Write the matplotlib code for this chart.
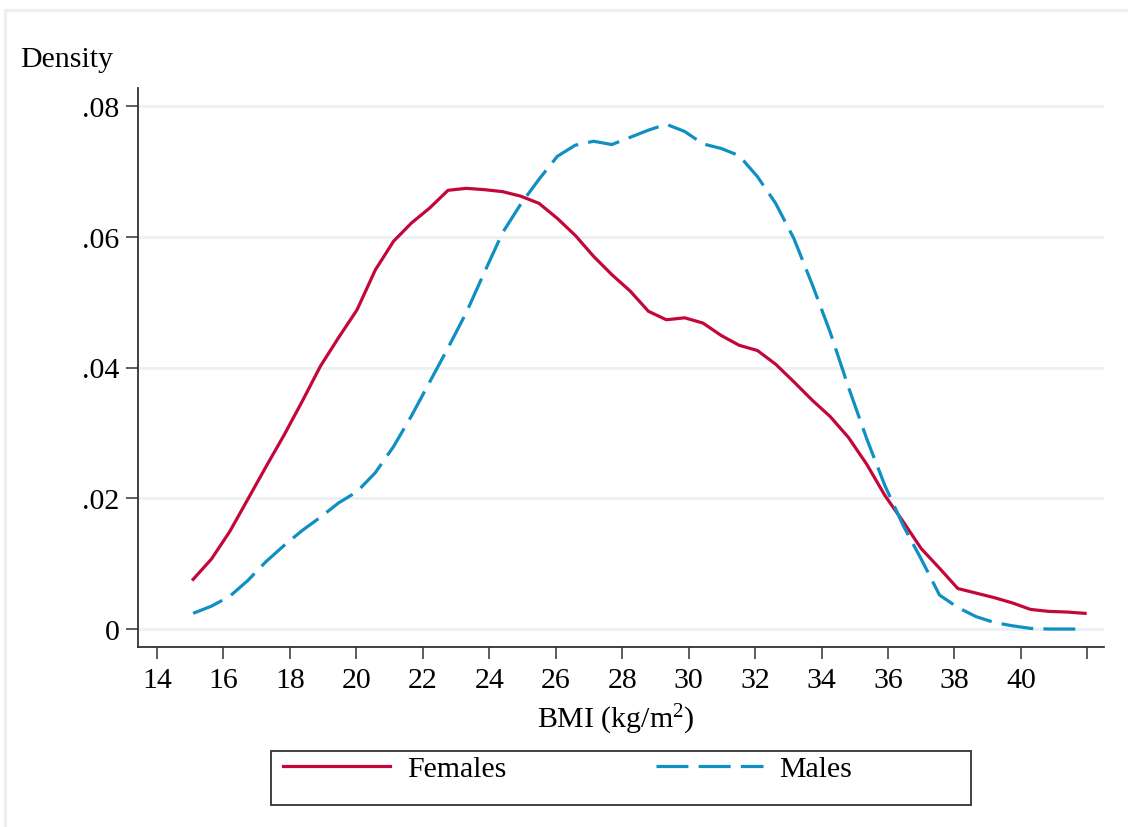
"""
Kernel density of BMI by sex, Stata-like styling.
"""

import matplotlib

matplotlib.use("Agg")
import matplotlib.pyplot as plt
from matplotlib.patches import Rectangle

# BMI grid the densities were evaluated on (kg/m^2)
bmi = [
    15.09, 15.64, 16.19, 16.73, 17.28, 17.83, 18.38, 18.92, 19.47, 20.02,
    20.57, 21.12, 21.66, 22.21, 22.76, 23.31, 23.85, 24.40, 24.95, 25.50,
    26.05, 26.59, 27.14, 27.69, 28.24, 28.79, 29.33, 29.88, 30.43, 30.98,
    31.52, 32.07, 32.62, 33.17, 33.72, 34.26, 34.81, 35.36, 35.91, 36.46,
    37.00, 37.55, 38.10, 38.65, 39.20, 39.74, 40.29, 40.84, 41.39, 41.93,
]
females = [
    0.0076, 0.0107, 0.0149, 0.0198, 0.0248, 0.0297, 0.0349, 0.0402, 0.0446, 0.0488,
    0.0549, 0.0593, 0.0621, 0.0644, 0.0671, 0.0674, 0.0672, 0.0669, 0.0662, 0.0651,
    0.0628, 0.0602, 0.0570, 0.0542, 0.0517, 0.0486, 0.0473, 0.0476, 0.0468, 0.0449,
    0.0434, 0.0426, 0.0405, 0.0378, 0.0350, 0.0325, 0.0293, 0.0252, 0.0204, 0.0164,
    0.0123, 0.0093, 0.0062, 0.0055, 0.0048, 0.0040, 0.0030, 0.0027, 0.0026, 0.0024,
]
males = [
    0.0024, 0.0035, 0.0050, 0.0074, 0.0103, 0.0128, 0.0151, 0.0171, 0.0193, 0.0210,
    0.0239, 0.0279, 0.0326, 0.0378, 0.0430, 0.0484, 0.0545, 0.0606, 0.0650, 0.0688,
    0.0723, 0.0740, 0.0746, 0.0741, 0.0752, 0.0763, 0.0772, 0.0761, 0.0742, 0.0735,
    0.0724, 0.0692, 0.0651, 0.0597, 0.0527, 0.0454, 0.0370, 0.0291, 0.0219, 0.0158,
    0.0107, 0.0052, 0.0033, 0.0019, 0.0010, 0.0005, 0.0001, 0.0000, 0.0000, 0.0000,
]

x_ticks = list(range(14, 43, 2))
x_tick_labels = [str(t) if t <= 40 else "" for t in x_ticks]
y_ticks = [0, 0.02, 0.04, 0.06, 0.08]
y_tick_labels = ["0", ".02", ".04", ".06", ".08"]

RED = "#c4073a"
BLUE = "#0f8fc2"
GRID = "#eaf1f3"
INK = "#333333"
FS = 21.5

plt.rcParams["font.family"] = ["Liberation Serif", "DejaVu Serif"]
plt.rcParams["mathtext.fontset"] = "custom"
plt.rcParams["mathtext.rm"] = "Liberation Serif"
plt.rcParams["mathtext.it"] = "Liberation Serif:italic"

W, H = 1128, 828
fig = plt.figure(figsize=(W / 100, H / 100), dpi=100)
ax = fig.add_axes([138.3 / W, 1 - 647.7 / H, (1104 - 138.3) / W, (647.7 - 89.3) / H])

# light outer frame of the graph region (only top and left edges show)
fig.patches.append(Rectangle((5 / W, -0.5), 2.0, 1.5 - 11 / H, transform=fig.transFigure,
                             fill=False, edgecolor=GRID, linewidth=2.2))

for yt in y_ticks:
    ax.axhline(yt, color=GRID, linewidth=2.0, zorder=0)

lw = 2.3
ax.plot(bmi, females, color=RED, linewidth=lw, label="Females", zorder=3)
ax.plot(bmi, males, color=BLUE, linewidth=lw, dashes=(10.0, 3.2), label="Males", zorder=3)

ax.set_xlim(13.44, 42.5)
ax.set_ylim(-0.0027, 0.0827)
ax.set_xticks(x_ticks)
ax.set_xticklabels(x_tick_labels)
ax.set_yticks(y_ticks)
ax.set_yticklabels(y_tick_labels)
ax.tick_params(axis="both", labelsize=FS, length=8.5, width=1.1, color=INK, direction="out")
ax.tick_params(axis="y", pad=5)
ax.tick_params(axis="x", pad=6)

for side in ("top", "right"):
    ax.spines[side].set_visible(False)
for side in ("left", "bottom"):
    ax.spines[side].set_linewidth(1.3)
    ax.spines[side].set_color(INK)

fig.text(20 / W, 1 - 66.7 / H, "Density", fontsize=FS, ha="left", va="baseline")
fig.text(616 / W, 1 - 728 / H, r"BMI (kg/m$^2$)", fontsize=FS, ha="center", va="baseline")

# legend: Stata draws equal-width columns, so the box is wider than its contents
leg = fig.legend(loc="center left", bbox_to_anchor=(283 / W, 1 - 770 / H), ncol=2,
                 fontsize=FS, frameon=False, handlelength=3.58, handletextpad=0.57,
                 columnspacing=5.0, borderpad=0, borderaxespad=0)
fig.patches.append(Rectangle((270.7 / W, 1 - 805.7 / H), 700 / W, 54 / H,
                             transform=fig.transFigure, fill=False,
                             edgecolor=INK, linewidth=1.3))

fig.savefig("out.png", dpi=100)
plt.close(fig)
